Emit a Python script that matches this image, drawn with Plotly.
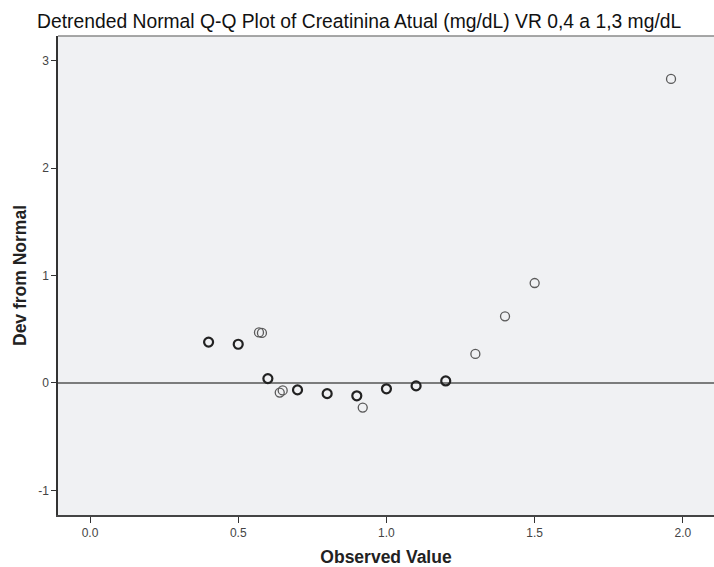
import plotly.graph_objects as go

observed = [0.40, 0.50, 0.57, 0.58, 0.60, 0.64, 0.65, 0.70, 0.80, 0.90, 0.92, 1.00, 1.10, 1.20, 1.30, 1.40, 1.50, 1.96]
dev_normal = [0.38, 0.36, 0.47, 0.465, 0.04, -0.09, -0.07, -0.065, -0.10, -0.12, -0.23, -0.055, -0.028, 0.018, 0.27, 0.62, 0.93, 2.83]
counts = [2, 2, 1, 1, 3, 1, 1, 2, 3, 3, 1, 3, 2, 2, 1, 1, 1, 1]

x_ticks = [0.0, 0.5, 1.0, 1.5, 2.0]
x_ticklabels = ["0.0", "0.5", "1.0", "1.5", "2.0"]
y_ticks = [-1, 0, 1, 2, 3]
y_ticklabels = ["-1", "0", "1", "2", "3"]

FONT = "Liberation Sans, Arial, sans-serif"

single_x = [x for x, c in zip(observed, counts) if c == 1]
single_y = [y for y, c in zip(dev_normal, counts) if c == 1]
multi_x = [x for x, c in zip(observed, counts) if c > 1]
multi_y = [y for y, c in zip(dev_normal, counts) if c > 1]

fig = go.Figure()
fig.add_hline(y=0, line=dict(color="#555555", width=1.5), layer="below")
fig.add_trace(go.Scatter(
    x=single_x, y=single_y, mode="markers",
    marker=dict(symbol="circle-open", size=9, color="#5a5a5a", line=dict(width=1.3)),
    hoverinfo="x+y", showlegend=False))
fig.add_trace(go.Scatter(
    x=multi_x, y=multi_y, mode="markers",
    marker=dict(symbol="circle-open", size=9, color="#222222", line=dict(width=2.2)),
    hoverinfo="x+y", showlegend=False))

fig.update_layout(
    width=714, height=567,
    margin=dict(l=58, r=0, t=36, b=52),
    paper_bgcolor="white",
    plot_bgcolor="#f0f1f3",
    font=dict(family=FONT, color="#222222"),
    title=dict(text="Detrended Normal Q-Q Plot of Creatinina Atual (mg/dL) VR 0,4 a 1,3 mg/dL",
               x=0.503, xanchor="center", y=0.962, yanchor="middle",
               font=dict(size=19.3, color="#111111", family=FONT)),
    xaxis=dict(range=[-0.108, 2.105], tickvals=x_ticks, ticktext=x_ticklabels,
               showgrid=False, zeroline=False, showline=True, linecolor="#444444", linewidth=1.5,
               mirror=False, ticks="outside", ticklen=6, tickcolor="#333333", tickwidth=1,
               tickfont=dict(size=12, color="#444444"),
               title=dict(text="<b>Observed Value</b>", font=dict(size=17.5, color="#222222"), standoff=12)),
    yaxis=dict(range=[-1.23, 3.23], tickvals=y_ticks, ticktext=y_ticklabels,
               showgrid=False, zeroline=False, showline=True, linecolor="#333333", linewidth=1.5,
               ticks="outside", ticklen=5, tickcolor="#333333", tickwidth=1,
               tickfont=dict(size=12, color="#444444"),
               title=dict(text="<b>Dev from Normal</b>", font=dict(size=17.5, color="#222222"), standoff=7)),
)
# top border
fig.add_shape(type="line", xref="paper", yref="paper", x0=0, x1=1, y0=1, y1=1,
              line=dict(color="#8a8a8a", width=1.5))

fig.write_html("out.html")
